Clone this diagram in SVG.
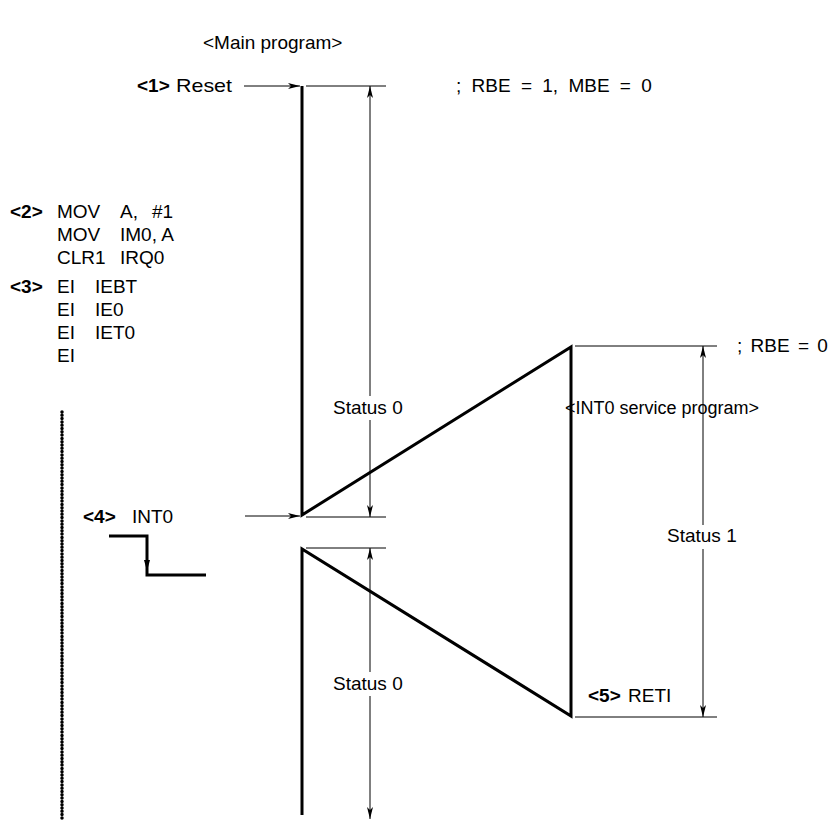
<svg xmlns="http://www.w3.org/2000/svg" width="834" height="821" viewBox="0 0 834 821">
<defs>
<marker id="ah" viewBox="0 0 12 6" refX="12" refY="3" markerWidth="12" markerHeight="6" markerUnits="userSpaceOnUse" orient="auto">
<path d="M0,0 L12,3 L0,6 L3,3 Z" fill="#000"/>
</marker>
<style>
text{font-family:"Liberation Sans",Arial,sans-serif;font-size:19px;fill:#000}
.b{font-weight:bold}
.thin{stroke:#000;stroke-width:1;fill:none}
.thick{stroke:#000;stroke-width:3;fill:none}
.arr{stroke:#000;stroke-width:1;fill:none;marker-end:url(#ah)}
</style>
</defs>
<rect width="834" height="821" fill="#fff"/>
<g id="title"><text x="203" y="49">&lt;Main program&gt;</text></g>
<g id="reset"><text x="137" y="92" class="b">&lt;1&gt;</text><text x="176" y="92" textLength="56" lengthAdjust="spacingAndGlyphs">Reset</text></g>
<g id="rbe1"><text x="456" y="92" style="word-spacing:5px">; RBE = 1, MBE = 0</text></g>
<g id="code2">
<text x="10" y="218" class="b">&lt;2&gt;</text>
<text x="57" y="218">MOV</text><text x="120" y="218">A,</text><text x="152" y="218">#1</text>
<text x="57" y="241">MOV</text><text x="120" y="241">IM0, A</text>
<text x="57" y="264">CLR1</text><text x="120" y="264">IRQ0</text>
</g>
<g id="code3">
<text x="10" y="293" class="b">&lt;3&gt;</text>
<text x="57" y="293">EI</text><text x="95" y="293">IEBT</text>
<text x="57" y="316">EI</text><text x="95" y="316">IE0</text>
<text x="57" y="339">EI</text><text x="95" y="339">IET0</text>
<text x="57" y="362">EI</text>
</g>
<g id="dots"><line x1="62" y1="412" x2="62" y2="818" stroke="#000" stroke-width="3.5" stroke-dasharray="0 3.3" stroke-linecap="round"/></g>
<g id="int0label"><text x="83" y="523" class="b">&lt;4&gt;</text><text x="132" y="523">INT0</text></g>
<g id="waveform"><path class="thick" d="M109,536 H147 V575 H206" stroke-width="2"/><path d="M144,560 L147,571 L150,560 Z" fill="#000"/></g>
<g id="isr-title"><text x="565" y="414" style="font-size:18px">&lt;INT0 service program&gt;</text></g>
<g id="rbe0"><text x="737" y="352" style="word-spacing:3px">; RBE = 0</text></g>
<g id="status0a"><text x="333" y="414">Status 0</text></g>
<g id="status1"><text x="667" y="542">Status 1</text></g>
<g id="status0b"><text x="333" y="690">Status 0</text></g>
<g id="reti"><text x="588" y="702" class="b">&lt;5&gt;</text><text x="628" y="702">RETI</text></g>
<g id="connectors">
<line class="arr" x1="244" y1="86" x2="300" y2="86"/>
<line class="arr" x1="245" y1="516" x2="300" y2="516"/>
<path class="thick" d="M302,86 V515 L571,347 V716 L302,549 V815"/>
<line class="thin" x1="306" y1="86" x2="386" y2="86"/>
<line class="thin" x1="306" y1="517" x2="386" y2="517"/>
<line class="thin" x1="306" y1="548" x2="386" y2="548"/>
<line class="thin" x1="575" y1="346" x2="717" y2="346"/>
<line class="thin" x1="575" y1="717" x2="717" y2="717"/>
<line class="arr" x1="370" y1="396" x2="370" y2="86"/>
<line class="arr" x1="370" y1="420" x2="370" y2="517"/>
<line class="arr" x1="370" y1="672" x2="370" y2="548"/>
<line class="arr" x1="370" y1="696" x2="370" y2="819"/>
<line class="arr" x1="703" y1="525" x2="703" y2="346"/>
<line class="arr" x1="703" y1="549" x2="703" y2="717"/>
</g>
</svg>
